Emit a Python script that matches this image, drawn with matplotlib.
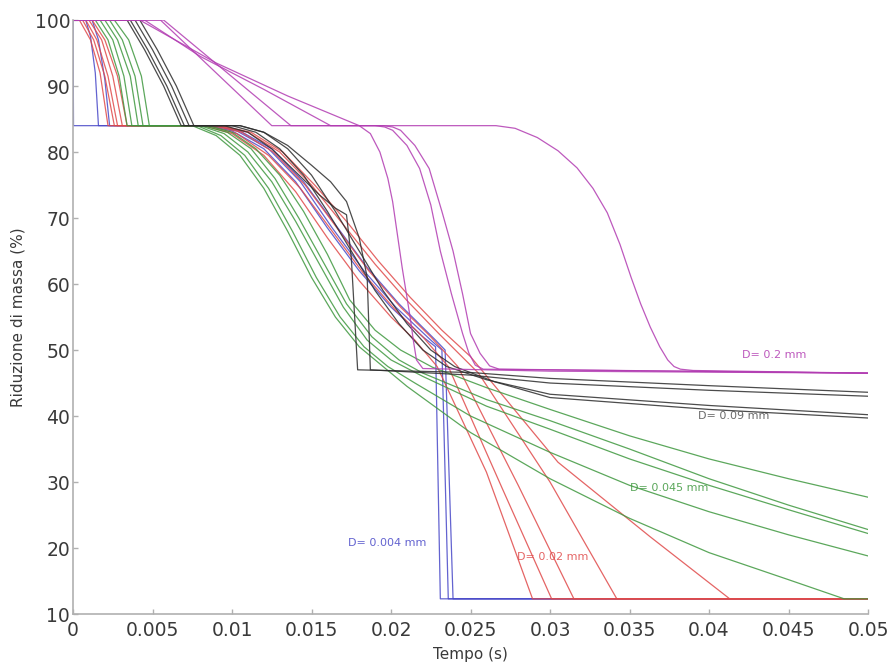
import matplotlib

matplotlib.use("Agg")
import matplotlib.pyplot as plt

# ---------------------------------------------------------------
# Data (time in s, mass reduction in %)
# ---------------------------------------------------------------
blue_t = [
    [0, 0.00003, 0.0085, 0.010, 0.012, 0.014, 0.016, 0.018, 0.020, 0.022, 0.0228, 0.0231, 0.05],
    [0, 0.0008, 0.0011, 0.0014, 0.0016, 0.0088, 0.0103, 0.0123, 0.0143, 0.0163, 0.0183, 0.0203, 0.0225, 0.0232, 0.0236, 0.05],
    [0, 0.0012, 0.0016, 0.002, 0.0023, 0.009, 0.0105, 0.0125, 0.0145, 0.0165, 0.0185, 0.0205, 0.0228, 0.0234, 0.0239, 0.05],
]
blue_y = [
    [100, 84, 84, 83.2, 80.5, 75.5, 68.5, 62, 56.5, 52, 50.5, 12.3, 12.3],
    [100, 100, 97.5, 92, 84, 84, 83.2, 80.5, 75.5, 68.5, 62, 56.5, 51.5, 50, 12.3, 12.3],
    [100, 100, 97, 91, 84, 84, 83.2, 80.5, 75.5, 69, 62.5, 57, 51.5, 50, 12.3, 12.3],
]

red_t = [
    [0, 0.0004, 0.0011, 0.0017, 0.0022, 0.0082, 0.010, 0.012, 0.014, 0.016, 0.018, 0.020, 0.0215, 0.0229, 0.026, 0.0289, 0.05],
    [0, 0.0006, 0.0013, 0.002, 0.0026, 0.0085, 0.0103, 0.0123, 0.0143, 0.0163, 0.0183, 0.0203, 0.022, 0.0236, 0.027, 0.0301, 0.05],
    [0, 0.0008, 0.0015, 0.0022, 0.0028, 0.0088, 0.0106, 0.0126, 0.0146, 0.0166, 0.0186, 0.0206, 0.0225, 0.0242, 0.028, 0.0315, 0.05],
    [0, 0.001, 0.0018, 0.0025, 0.0031, 0.009, 0.011, 0.013, 0.015, 0.017, 0.019, 0.021, 0.023, 0.0255, 0.030, 0.0342, 0.05],
    [0, 0.0012, 0.002, 0.0028, 0.0034, 0.0092, 0.0112, 0.0132, 0.0152, 0.0172, 0.0192, 0.0212, 0.0232, 0.025, 0.0305, 0.0363, 0.0413, 0.05],
]
red_y = [
    [100, 100, 97, 92, 84, 84, 82.8, 79.5, 74, 67, 60.5, 55, 51.5, 47.5, 31.5, 12.3, 12.3],
    [100, 100, 97, 91.5, 84, 84, 82.8, 79.5, 74.5, 68, 61.5, 56, 52, 47.5, 29, 12.3, 12.3],
    [100, 100, 97, 91.5, 84, 84, 83, 80, 75, 68.5, 62, 56.5, 52, 47.5, 29.5, 12.3, 12.3],
    [100, 100, 97, 91.5, 84, 84, 83, 80, 75, 69, 63, 57.5, 52.5, 46.5, 30, 12.3, 12.3],
    [100, 100, 97, 91.5, 84, 84, 83, 80, 75, 69.5, 63.5, 58, 53, 49, 33, 21.7, 12.3, 12.3],
]

green_t = [
    [0, 0.0014, 0.0022, 0.0029, 0.0034, 0.0085, 0.010, 0.0115, 0.013, 0.0145, 0.016, 0.0174, 0.019, 0.0206, 0.0226, 0.026, 0.030, 0.035, 0.040, 0.045, 0.05],
    [0, 0.0017, 0.0025, 0.0032, 0.0037, 0.0082, 0.0097, 0.0112, 0.0127, 0.0142, 0.0157, 0.0172, 0.0188, 0.0205, 0.022, 0.026, 0.030, 0.035, 0.040, 0.045, 0.05],
    [0, 0.002, 0.0028, 0.0036, 0.0041, 0.008, 0.0095, 0.011, 0.0125, 0.014, 0.0155, 0.017, 0.0185, 0.020, 0.022, 0.026, 0.030, 0.035, 0.040, 0.045, 0.05],
    [0, 0.0023, 0.0031, 0.0039, 0.0044, 0.0078, 0.0093, 0.0108, 0.0123, 0.0138, 0.0153, 0.0168, 0.0183, 0.0198, 0.0215, 0.025, 0.030, 0.035, 0.040, 0.045, 0.05],
    [0, 0.0026, 0.0035, 0.0043, 0.0048, 0.0075, 0.009, 0.0105, 0.012, 0.0135, 0.015, 0.0165, 0.018, 0.0195, 0.021, 0.025, 0.030, 0.035, 0.040, 0.045, 0.0485, 0.05],
]
green_y = [
    [100, 100, 97, 91.5, 84, 84, 83, 80.5, 76.5, 71, 64.5, 57.6, 53, 50, 47.4, 44.3, 41, 37, 33.5, 30.5, 27.7],
    [100, 100, 97, 91.5, 84, 84, 83, 80.5, 76, 70, 63.5, 57, 52, 48.5, 46.5, 42.5, 39.3, 35, 30.5, 26.5, 22.8],
    [100, 100, 97, 91.5, 84, 84, 82.8, 80, 75.5, 69.5, 63, 56.5, 51.5, 48.5, 46, 41.5, 38, 33.5, 29.5, 25.8, 22.2],
    [100, 100, 97, 91.5, 84, 84, 82.5, 79.5, 74.5, 68, 61, 55, 50.5, 47.5, 45, 40, 34.5, 29.5, 25.5, 22, 18.8],
    [100, 100, 97, 91.5, 84, 84, 82.5, 79.5, 74.5, 68, 61, 55, 50.5, 47.5, 44.5, 37.5, 30.5, 24.5, 19.3, 15.2, 12.3, 12.3],
]

black_t = [
    [0, 0.0034, 0.0045, 0.0057, 0.0068, 0.0095, 0.011, 0.0125, 0.014, 0.0155, 0.0165, 0.0172, 0.0175, 0.0179, 0.025, 0.030, 0.040, 0.05],
    [0, 0.0036, 0.0047, 0.0059, 0.007, 0.0105, 0.012, 0.0135, 0.015, 0.0162, 0.0172, 0.018, 0.0185, 0.0187, 0.025, 0.030, 0.040, 0.05],
    [0, 0.0039, 0.005, 0.0062, 0.0073, 0.010, 0.0115, 0.013, 0.0145, 0.016, 0.0175, 0.019, 0.0205, 0.022, 0.0235, 0.026, 0.030, 0.040, 0.05],
    [0, 0.0042, 0.0053, 0.0065, 0.0076, 0.0105, 0.012, 0.0135, 0.015, 0.0165, 0.018, 0.0195, 0.021, 0.0225, 0.024, 0.0265, 0.030, 0.040, 0.05],
]
black_y = [
    [100, 100, 95.5, 90, 84, 84, 83, 80.5, 77, 73.5, 71.5, 70.5, 64, 47, 46.6, 45.7, 44.6, 43.6],
    [100, 100, 95.5, 90, 84, 84, 83, 81, 78, 75.5, 72.5, 67, 61, 47, 46.2, 45, 43.9, 43.0],
    [100, 100, 95.5, 90, 84, 84, 83, 80.5, 76.5, 71, 65, 59, 54, 50, 47.5, 45.5, 43.3, 41.6, 40.2],
    [100, 100, 95.5, 90, 84, 84, 83, 80.5, 76.5, 71, 65, 59, 54, 50, 47.5, 45.2, 42.8, 41.0, 39.7],
]

magenta_t = [
    [0, 0.0055, 0.0125, 0.018, 0.0187, 0.0193, 0.0198, 0.0201, 0.0204, 0.0207, 0.021, 0.0212,
     0.0214, 0.0216, 0.022, 0.03, 0.05],
    [0, 0.0057, 0.0137, 0.019, 0.0196, 0.0201, 0.021, 0.0218, 0.0225, 0.0231, 0.0238, 0.0245,
     0.0249, 0.0253, 0.0258, 0.05],
    [0, 0.0045, 0.008, 0.012, 0.0162, 0.0195, 0.0201, 0.0206, 0.0215, 0.0224, 0.0232, 0.0239,
     0.0245, 0.025, 0.0256, 0.0262, 0.0268, 0.05],
    [0, 0.0042, 0.009, 0.0135, 0.018, 0.0266, 0.0278, 0.0292, 0.0305, 0.0317, 0.0327, 0.0336,
     0.0344, 0.0351, 0.0357, 0.0363, 0.0369, 0.0374, 0.0378, 0.0382, 0.039, 0.05],
]
magenta_y = [
    [100, 100, 84, 84, 82.8, 80, 76, 72.5, 67.5, 62.5, 58, 55, 51.5, 48.5, 47.2, 46.8, 46.5],
    [100, 100, 84, 84, 83.8, 83.3, 81, 77.5, 72, 65, 58.5, 52.5, 49.5, 47.7, 47.1, 46.5],
    [100, 100, 94.5, 89.5, 84, 84, 83.8, 83.3, 81, 77.5, 71, 65, 58.5, 52.5, 49.5, 47.6, 47.1, 46.5],
    [100, 100, 93.5, 88.5, 84, 84, 83.6, 82.2, 80.2, 77.6, 74.5, 70.8, 66, 61, 57, 53.5, 50.5,
     48.5, 47.5, 47.1, 46.9, 46.5],
]

# diameter labels: text, x, y
label_text = ["D= 0.2 mm", "D= 0.09 mm", "D= 0.045 mm", "D= 0.02 mm", "D= 0.004 mm"]
label_x = [0.0421, 0.0393, 0.0350, 0.0279, 0.0173]
label_y = [49.2, 40.0, 29.1, 18.6, 20.8]

xticks = [0, 0.005, 0.01, 0.015, 0.02, 0.025, 0.03, 0.035, 0.04, 0.045, 0.05]
xtick_labels = ["0", "0.005", "0.01", "0.015", "0.02", "0.025", "0.03", "0.035", "0.04", "0.045", "0.05"]
yticks = [10, 20, 30, 40, 50, 60, 70, 80, 90, 100]

# ---------------------------------------------------------------
# Styling
# ---------------------------------------------------------------
C_BLUE = "#4848c8"
C_RED = "#e04a4a"
C_GREEN = "#3f983f"
C_BLACK = "#2c2c2c"
C_MAGENTA = "#b23cb2"
AXIS_GRAY = "#b0b0b0"
TEXT_GRAY = "#3a3a3a"
LW = 0.9

fig = plt.figure(figsize=(8.96, 6.69), dpi=100)
ax = fig.add_axes([0.0815, 0.0822, 0.8873, 0.8878])

groups = [
    (blue_t, blue_y, C_BLUE),
    (red_t, red_y, C_RED),
    (green_t, green_y, C_GREEN),
    (black_t, black_y, C_BLACK),
    (magenta_t, magenta_y, C_MAGENTA),
]
for ts, ys, color in groups:
    for t, y in zip(ts, ys):
        ax.plot(t, y, color=color, lw=LW, alpha=0.85, solid_joinstyle="round")

label_colors = [C_MAGENTA, "#505050", C_GREEN, C_RED, C_BLUE]
for txt, x, y, c in zip(label_text, label_x, label_y, label_colors):
    ax.text(x, y, txt, color=c, fontsize=8, va="center", ha="left", alpha=0.85)

ax.set_xlim(0, 0.05)
ax.set_ylim(10, 100)
ax.set_xticks(xticks)
ax.set_xticklabels(xtick_labels)
ax.set_yticks(yticks)

for side in ["top", "right"]:
    ax.spines[side].set_visible(False)
for side in ["left", "bottom"]:
    ax.spines[side].set_color(AXIS_GRAY)
    ax.spines[side].set_linewidth(1.2)

ax.tick_params(axis="both", direction="in", length=3.5, width=1.0,
               color=AXIS_GRAY, labelcolor=TEXT_GRAY, labelsize=13.5)
ax.tick_params(axis="x", pad=5)
ax.tick_params(axis="y", pad=2)

ax.set_xlabel("Tempo (s)", fontsize=11, color=TEXT_GRAY)
ax.set_ylabel("Riduzione di massa (%)", fontsize=11, color=TEXT_GRAY)
ax.xaxis.set_label_coords(0.5, -0.069)
ax.xaxis.label.set_va("center")
ax.yaxis.set_label_coords(-0.069, 0.5)
ax.yaxis.label.set_va("center")

fig.savefig("out.png", dpi=100)
